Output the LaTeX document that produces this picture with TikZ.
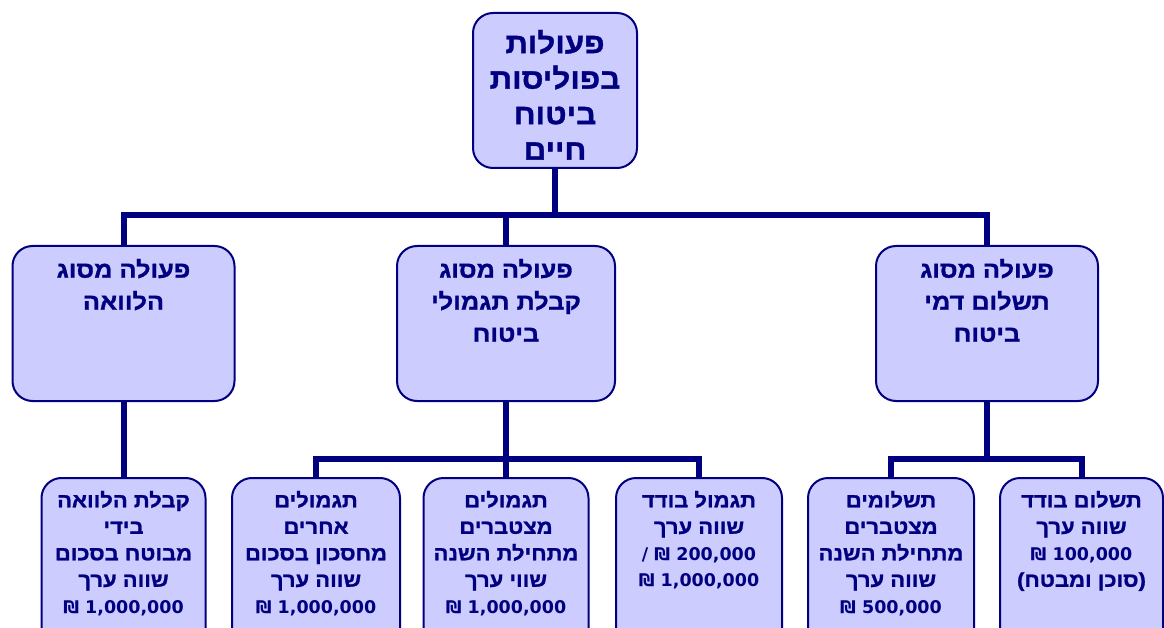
\documentclass[tikz,border=0pt]{standalone}
\usepackage{fontspec}
\setmainfont{Liberation Sans}
\newfontfamily\heb[Script=Hebrew, FakeStretch=1.1, BoldFeatures={FakeBold=1.2}]{Liberation Sans}
\newfontfamily\lat[FakeStretch=1.1, BoldFeatures={FakeBold=1.2}]{Liberation Sans}
\newfontfamily\dvs{DejaVu Sans}
\TeXXeTstate=1
\usetikzlibrary{backgrounds}
\definecolor{navy}{HTML}{000080}
\definecolor{boxfill}{HTML}{CCCCFF}
\newcommand{\RL}[1]{\beginR #1\endR}
\newcommand{\numfont}{\dvs\bfseries\fontsize{17.5}{26.5}\selectfont}
\newcommand{\shk}[1]{{\numfont\beginL ₪ #1\endL}}
\newcommand{\bx}[4]{\parbox[c][#1][t]{#2}{\centering\vspace*{#3}#4}}
\newcommand{\topfont}{\fontsize{28.5}{35.5}\selectfont}
\newcommand{\midfont}{\fontsize{23}{32}\selectfont}
\newcommand{\lowfont}{\fontsize{20}{26.5}\selectfont}
\tikzset{
  box/.style={draw=navy, line width=2pt, fill=boxfill, rounded corners=20pt,
    inner sep=0pt, text=navy, font=\heb\bfseries},
  conn/.style={draw=navy, line width=6pt, line join=miter}
}
\begin{document}
\begin{tikzpicture}[x=1pt, y=-1pt]
\useasboundingbox (0,0) rectangle (1164,628);
\clip (0,0) rectangle (1164,628);
% level 1
\node[box] (top) at (555,90.5) {\bx{155pt}{164pt}{17pt}{\topfont
  \RL{פעולות}\\ \RL{בפוליסות}\\ \RL{ביטוח}\\ \RL{חיים}}};
% level 2
\node[box] (loan) at (123.5,323.5) {\bx{155pt}{222pt}{13pt}{\midfont
  \RL{פעולה מסוג}\\ \RL{הלוואה}}};
\node[box] (ben) at (506,323.5) {\bx{155pt}{218pt}{13pt}{\midfont
  \RL{פעולה מסוג}\\ \RL{קבלת תגמולי}\\ \RL{ביטוח}}};
\node[box] (prem) at (987,323.5) {\bx{155pt}{222pt}{13pt}{\midfont
  \RL{פעולה מסוג}\\ \RL{תשלום דמי}\\ \RL{ביטוח}}};
% level 3
\node[box] (b1) at (123.5,573) {\bx{190pt}{164pt}{13pt}{\lowfont
  \RL{קבלת הלוואה}\\ \RL{בידי}\\ \RL{מבוטח בסכום}\\ \RL{שווה ערך}\\ \shk{1,000,000}}};
\node[box] (b2) at (316,573) {\bx{190pt}{168pt}{13pt}{\lowfont
  \RL{תגמולים}\\ \RL{אחרים}\\ \RL{מחסכון בסכום}\\ \RL{שווה ערך}\\ \shk{1,000,000}}};
\node[box] (b3) at (506,573) {\bx{190pt}{165pt}{13pt}{\lowfont
  \RL{תגמולים}\\ \RL{מצטברים}\\ \RL{מתחילת השנה}\\ \RL{שווי ערך}\\ \shk{1,000,000}}};
\node[box] (b4) at (699,573) {\bx{190pt}{166pt}{13pt}{\lowfont
  \RL{תגמול בודד}\\ \RL{שווה ערך}\\ {\numfont\beginL / ₪ 200,000\endL}\\ \shk{1,000,000}}};
\node[box] (b5) at (891,573) {\bx{190pt}{166pt}{13pt}{\lowfont
  \RL{תשלומים}\\ \RL{מצטברים}\\ \RL{מתחילת השנה}\\ \RL{שווה ערך}\\ \shk{500,000}}};
\node[box] (b6) at (1081.5,573) {\bx{190pt}{163pt}{13pt}{\lowfont
  \RL{תשלום בודד}\\ \RL{שווה ערך}\\ \shk{100,000}\\ \beginL{\lat(}\RL{סוכן ומבטח}{\lat)}\endL}};
% connectors
\begin{scope}[on background layer]
\coordinate (bus1) at (555,215);
\coordinate (bus2) at (506,459);
\coordinate (bus3) at (987,459);
\draw[conn] (top.south) -- (bus1);
\draw[conn] (loan.north) |- (bus1) -| (prem.north);
\draw[conn] (ben.north) -- (ben.north |- bus1);
\draw[conn] (loan.south) -- (b1.north);
\draw[conn] (ben.south) -- (bus2);
\draw[conn] (b2.north) |- (bus2) -| (b4.north);
\draw[conn] (b3.north) -- (b3.north |- bus2);
\draw[conn] (prem.south) -- (bus3);
\draw[conn] (b5.north) |- (bus3) -| (b6.north);
\end{scope}
\end{tikzpicture}
\end{document}
